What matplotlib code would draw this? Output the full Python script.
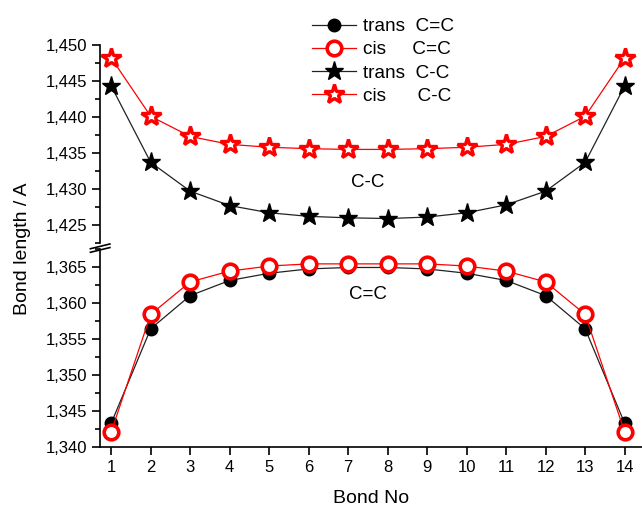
import matplotlib.pyplot as plt
from matplotlib.ticker import FuncFormatter, MultipleLocator
from matplotlib.lines import Line2D

plt.rcParams['font.family'] = ['Liberation Sans', 'DejaVu Sans']

bond_no = list(range(1, 15))

trans_cc_double = [1.3433, 1.3564, 1.3610, 1.3631, 1.3641, 1.3647, 1.3649,
                   1.3649, 1.3647, 1.3641, 1.3631, 1.3610, 1.3564, 1.3433]
cis_cc_double = [1.3421, 1.3584, 1.3629, 1.3644, 1.3651, 1.3654, 1.3654,
                 1.3654, 1.3654, 1.3651, 1.3644, 1.3629, 1.3584, 1.3421]
trans_cc_single = [1.4443, 1.4337, 1.4297, 1.4277, 1.4267, 1.4262, 1.4260,
                   1.4259, 1.4261, 1.4267, 1.4278, 1.4297, 1.4337, 1.4443]
cis_cc_single = [1.4482, 1.4401, 1.4373, 1.4362, 1.4358, 1.4356, 1.4355,
                 1.4355, 1.4356, 1.4358, 1.4362, 1.4373, 1.4401, 1.4482]

fig = plt.figure(figsize=(6.42, 5.07), dpi=100)
ax_top = fig.add_axes([0.156, 0.5207, 0.844, 0.3905])
ax_bot = fig.add_axes([0.156, 0.1183, 0.844, 0.3911])

black_circle = dict(color='#222222', lw=0.9, marker='o', ms=9,
                    mfc='black', mec='black')
red_circle = dict(color='red', lw=0.9, marker='o', ms=10.5,
                  mfc='white', mec='red', mew=2.6)
black_star = dict(color='#222222', lw=0.9, marker='*', ms=14,
                  mfc='black', mec='black')
red_star = dict(color='red', lw=0.9, marker='*', ms=15,
                mfc='white', mec='red', mew=2.4)

for ax in (ax_top, ax_bot):
    ax.plot(bond_no, trans_cc_double, **black_circle)
    ax.plot(bond_no, cis_cc_double, **red_circle)
    ax.plot(bond_no, trans_cc_single, **black_star)
    ax.plot(bond_no, cis_cc_single, **red_star)
    ax.set_xlim(0.72, 14.44)
    ax.spines['right'].set_visible(False)
    ax.spines['top'].set_visible(False)
    ax.yaxis.set_major_locator(MultipleLocator(0.005))
    ax.yaxis.set_minor_locator(MultipleLocator(0.0025))
    ax.yaxis.set_major_formatter(FuncFormatter(lambda v, p: f"{v:.3f}".replace('.', ',')))
    ax.tick_params(axis='both', which='major', direction='out', length=6,
                   width=1.2, labelsize=12)
    ax.tick_params(axis='y', which='minor', direction='out', length=3.5, width=1.2)
    for s in ax.spines.values():
        s.set_linewidth(1.2)

ax_top.set_ylim(1.4225, 1.450)
ax_top.spines['bottom'].set_visible(False)
ax_top.tick_params(axis='x', which='both', bottom=False, labelbottom=False)

ax_bot.set_ylim(1.340, 1.3675)
ax_bot.set_xticks(bond_no)
ax_bot.set_xlabel('Bond No', fontsize=14, labelpad=11)

# break marks on the left axis
for y0 in (-0.006, 0.012):
    ax_bot.plot([-0.018, 0.018], [1.0 + y0 - 0.012, 1.0 + y0 + 0.012],
                transform=ax_bot.transAxes, color='black', lw=1.2, clip_on=False)

fig.text(0.035, 0.51, 'Bond length / A', rotation=90, fontsize=14,
         ha='center', va='center')

ax_top.text(7.5, 1.4309, 'C-C', fontsize=13.5, ha='center', va='center')
ax_bot.text(7.5, 1.3611, 'C=C', fontsize=13.5, ha='center', va='center')

handles = [Line2D([], [], **black_circle), Line2D([], [], **red_circle),
           Line2D([], [], **black_star), Line2D([], [], **red_star)]
labels = ['trans  C=C', 'cis     C=C', 'trans  C-C', 'cis      C-C']
fig.legend(handles, labels, loc='upper left', bbox_to_anchor=(0.46, 0.998),
           frameon=False, fontsize=13.7, labelspacing=0.3, handlelength=2.3,
           handletextpad=0.35)

fig.savefig('out.png', dpi=100)
